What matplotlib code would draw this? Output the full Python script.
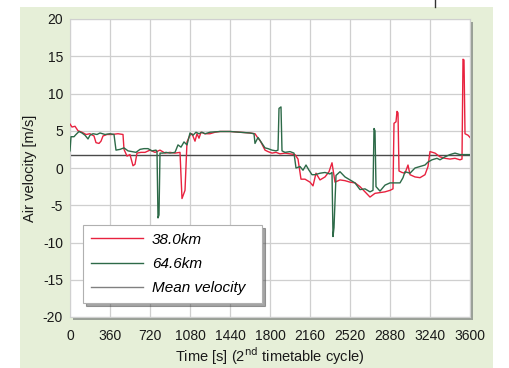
import numpy as np
import matplotlib
matplotlib.use("Agg")
import matplotlib.pyplot as plt
from matplotlib.patches import Rectangle
from matplotlib.lines import Line2D

# time axis ticks [s]
xticks = [0, 360, 720, 1080, 1440, 1800, 2160, 2520, 2880, 3240, 3600]
yticks = [-20, -15, -10, -5, 0, 5, 10, 15, 20]

# 38.0 km point
t_38 = [0, 18, 45, 72, 108, 144, 180, 216, 234, 261, 279, 297, 333, 378, 432, 477,
        486, 513, 540, 567, 585, 603, 639, 675, 720, 765, 810, 855, 900, 945, 990,
        1008, 1035, 1053, 1080, 1098, 1125, 1143, 1161, 1179, 1215, 1260, 1305, 1350,
        1440, 1530, 1620, 1665, 1692, 1710, 1728, 1755, 1782, 1818, 1854, 1890, 1935,
        1980, 2025, 2052, 2079, 2115, 2160, 2187, 2214, 2250, 2295, 2331, 2358, 2385,
        2430, 2475, 2520, 2565, 2610, 2655, 2700, 2745, 2790, 2835, 2880, 2907, 2916,
        2934, 2943, 2952, 2961, 2988, 3015, 3042, 3060, 3105, 3150, 3195, 3222, 3240,
        3285, 3330, 3375, 3420, 3465, 3510, 3528, 3537, 3546, 3555, 3582, 3600]
v_38 = [5.9, 5.5, 5.6, 5.0, 4.8, 4.5, 4.6, 4.3, 3.4, 3.3, 3.6, 4.3, 4.5, 4.5, 4.6, 4.5,
        2.5, 1.6, 1.8, 0.3, 0.5, 2.0, 2.1, 2.1, 2.4, 2.1, 2.4, 2.0, 2.1, 2.0, 2.1,
        -4.1, -3.0, 3.5, 4.4, 4.6, 3.6, 4.6, 4.0, 4.8, 4.6, 4.6, 4.8, 4.9,
        4.9, 4.8, 4.7, 4.6, 4.0, 3.7, 3.2, 2.4, 2.2, 2.0, 2.1, 1.9, 2.0,
        1.9, 1.8, 1.2, -1.5, -1.5, -1.9, -2.4, -0.7, -1.6, -1.2, -0.5, 0.7, -1.9,
        -1.6, -1.7, -1.9, -2.0, -2.5, -3.2, -3.9, -3.4, -3.3, -3.2, -3.0, -2.8, 6.0,
        6.2, 7.6, 7.4, -0.4, -0.6, -0.7, 0.4, -0.9, -1.2, -1.3, -0.9, 0.2, 2.2,
        2.0, 1.5, 1.3, 1.2, 1.3, 1.1, 1.2, 14.6, 14.5, 4.6, 4.4, 4.1]

# 64.6 km point
t_64 = [0, 9, 36, 54, 81, 108, 135, 162, 180, 207, 243, 270, 315, 360, 396, 414, 450,
        486, 522, 558, 594, 630, 666, 702, 738, 774, 783, 792, 801, 810, 837, 864,
        900, 945, 972, 999, 1026, 1053, 1080, 1107, 1134, 1161, 1188, 1215, 1260,
        1350, 1440, 1530, 1620, 1656, 1665, 1692, 1728, 1755, 1782, 1818, 1854, 1872,
        1881, 1899, 1908, 1935, 1980, 2016, 2034, 2070, 2097, 2124, 2151, 2178, 2205,
        2250, 2295, 2340, 2358, 2367, 2376, 2394, 2430, 2475, 2520, 2565, 2610, 2655,
        2700, 2727, 2736, 2745, 2754, 2790, 2835, 2880, 2925, 2970, 2997, 3015, 3060,
        3105, 3150, 3195, 3222, 3258, 3303, 3330, 3375, 3420, 3465, 3510, 3555, 3600]
v_64 = [2.3, 4.2, 4.2, 4.5, 4.9, 4.7, 4.4, 3.9, 4.4, 4.6, 4.5, 4.7, 4.5, 4.6, 4.5, 2.4, 2.5,
        2.7, 2.3, 2.2, 2.1, 2.5, 2.6, 2.6, 2.3, 2.4, 2.2, -6.7, -6.3, 2.0, 2.0, 2.1,
        2.0, 2.1, 3.1, 2.8, 3.5, 3.1, 4.7, 4.4, 4.8, 4.6, 4.8, 4.6, 4.8,
        4.9, 4.9, 4.8, 4.7, 4.6, 3.3, 4.1, 3.3, 2.7, 2.6, 2.4, 2.3, 2.4,
        8.0, 8.2, 2.3, 2.1, 2.2, 2.0, 0.0, 0.2, -0.3, 0.4, -0.3, -0.9, -0.9,
        -0.7, -0.6, -0.8, -0.6, -9.2, -8.0, -1.0, -0.5, -1.2, -1.6, -2.0, -2.9, -2.8,
        -3.2, -3.0, 5.3, 5.0, -2.5, -3.1, -2.3, -2.0, -2.0, -2.0, -1.3, -0.5, -0.7,
        0.0, 0.2, 0.4, 0.8, 1.1, 1.3, 1.1, 1.5, 1.8, 2.0, 1.8, 1.8, 1.8]

mean_v = 1.8

plt.rcParams['font.family'] = ['Liberation Sans', 'DejaVu Sans']
plt.rcParams['axes.unicode_minus'] = False

fig = plt.figure(figsize=(5.09, 3.68), dpi=100)
fig.patch.set_facecolor('white')

# pale green panel behind the chart
fig.patches.append(Rectangle((20 / 509, 0), 473 / 509, 1 - 7 / 368,
                             transform=fig.transFigure, facecolor='#e6efd8',
                             edgecolor='none', zorder=-3))
# little mark above the panel
fig.add_artist(Line2D([435 / 509, 435 / 509], [1 - 7 / 368, 1.0],
                      transform=fig.transFigure, color='#333333', lw=1.0))

ax_rect = [70 / 509, 1 - 317 / 368, 400 / 509, 298 / 368]
# drop shadow of the plot area
fig.patches.append(Rectangle((ax_rect[0] + 3 / 509, ax_rect[1] - 3 / 368),
                             ax_rect[2], ax_rect[3], transform=fig.transFigure,
                             facecolor='#9aa097', edgecolor='none', zorder=-2))
ax = fig.add_axes(ax_rect)
ax.set_zorder(1)
ax.set_facecolor('white')

ax.plot(t_38, v_38, color='#e8223f', lw=1.0, label='38.0km', zorder=3)
ax.plot(t_64, v_64, color='#2d6a48', lw=1.0, label='64.6km', zorder=3)
ax.axhline(mean_v, color='#4a4a4a', lw=1.0, label='Mean velocity', zorder=2)

ax.set_xlim(0, 3600)
ax.set_ylim(-20, 20)
ax.set_xticks(xticks)
ax.set_yticks(yticks)
ax.grid(True, color='#cfcfcf', lw=0.9)
ax.set_axisbelow(True)
ax.tick_params(length=0, labelsize=10, colors='#1a1a1a')
ax.tick_params(axis='x', pad=9)
ax.tick_params(axis='y', pad=5)
for s in ax.spines.values():
    s.set_color('#d0d0d0')
    s.set_linewidth(0.8)

ax.set_xlabel('Time [s] (2$^{\\rm nd}$ timetable cycle)', fontsize=10.5,
              color='#1a1a1a', labelpad=1)
ax.set_ylabel('Air velocity [m/s]', fontsize=10.5, color='#1a1a1a', labelpad=4)

leg = ax.legend(loc='lower left', bbox_to_anchor=(0.0325, 0.047, 0.4475, 0.268),
                mode='expand', borderaxespad=0, fancybox=False, shadow=True,
                handlelength=3.4, handletextpad=0.6, labelspacing=0.68,
                borderpad=0.5, prop={'style': 'italic', 'size': 11})
leg.get_frame().set_edgecolor('#b0b0b0')
leg.get_frame().set_linewidth(0.8)
leg.get_lines()[2].set_color('#808080')

fig.savefig('out.png', dpi=100)
